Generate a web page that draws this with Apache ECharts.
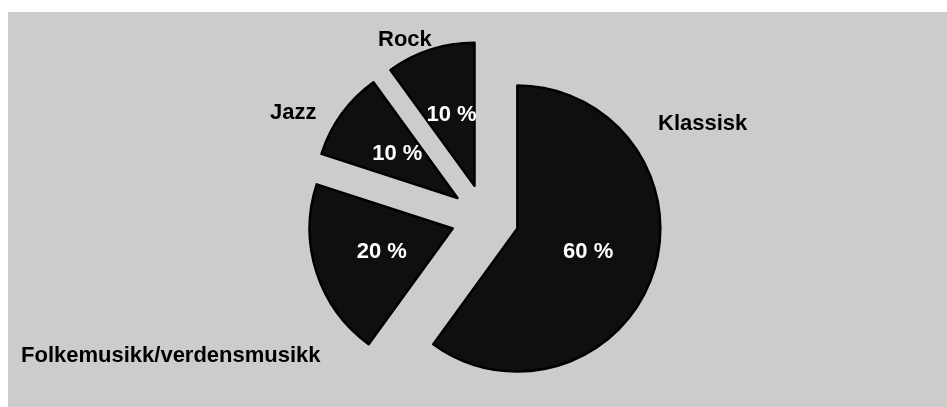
<!DOCTYPE html>
<html>
<head>
<meta charset="utf-8">
<script src="https://cdn.jsdelivr.net/npm/echarts@6/dist/echarts.min.js"></script>
<style>
html,body{margin:0;padding:0;background:#fff;}
#chart{width:947px;height:407px;}
</style>
</head>
<body>
<div id="chart"></div>
<script>
// Data
const categories = ['Klassisk', 'Folkemusikk/verdensmusikk', 'Jazz', 'Rock'];
const values = [60, 20, 10, 10];

// Layout for the outside category labels (left edge x, middle y)
const outsideLabelPos = [
  [658, 124],
  [21, 356],
  [270, 113],
  [378, 40]
];

const fontFamily = '"Liberation Sans", Arial, sans-serif';

const chart = echarts.init(document.getElementById('chart'), null, { renderer: 'canvas' });

const sliceStyle = { color: '#0f0f0f', borderColor: '#000', borderWidth: 2.5 };

chart.setOption({
  backgroundColor: '#ffffff',
  animation: false,
  graphic: [{
    type: 'rect', z: -10, silent: true,
    shape: { x: 8, y: 12, width: 947, height: 407 },
    style: { fill: '#cccccc' }
  }],
  series: [
    {
      type: 'pie',
      center: [485, 218],
      radius: 143,
      startAngle: 90,
      clockwise: true,
      selectedMode: 'multiple',
      selectedOffset: 34,
      avoidLabelOverlap: false,
      silent: true,
      data: categories.map((c, i) => ({ name: c, value: values[i], selected: true })),
      itemStyle: sliceStyle,
      select: { itemStyle: sliceStyle, label: { color: '#ffffff' } },
      emphasis: { disabled: true },
      label: {
        show: true,
        position: 'inside',
        formatter: '{d} %',
        color: '#ffffff',
        fontFamily: fontFamily,
        fontWeight: 'bold',
        fontSize: 22,
        padding: [5, 0, 0, 0]
      },
      labelLine: { show: false }
    },
    {
      type: 'pie',
      center: [485, 218],
      radius: 143,
      startAngle: 90,
      clockwise: true,
      avoidLabelOverlap: false,
      silent: true,
      z: 5,
      data: categories.map((c, i) => ({ name: c, value: values[i] })),
      itemStyle: { color: 'rgba(0,0,0,0)', borderWidth: 0 },
      emphasis: { disabled: true },
      label: {
        show: true,
        position: 'outside',
        formatter: '{b}',
        color: '#000000',
        fontFamily: fontFamily,
        fontWeight: 'bold',
        fontSize: 22
      },
      labelLine: { show: false },
      labelLayout: function (params) {
        const p = outsideLabelPos[params.dataIndex];
        return { x: p[0], y: p[1], align: 'left', verticalAlign: 'middle' };
      }
    }
  ]
});
</script>
</body>
</html>
